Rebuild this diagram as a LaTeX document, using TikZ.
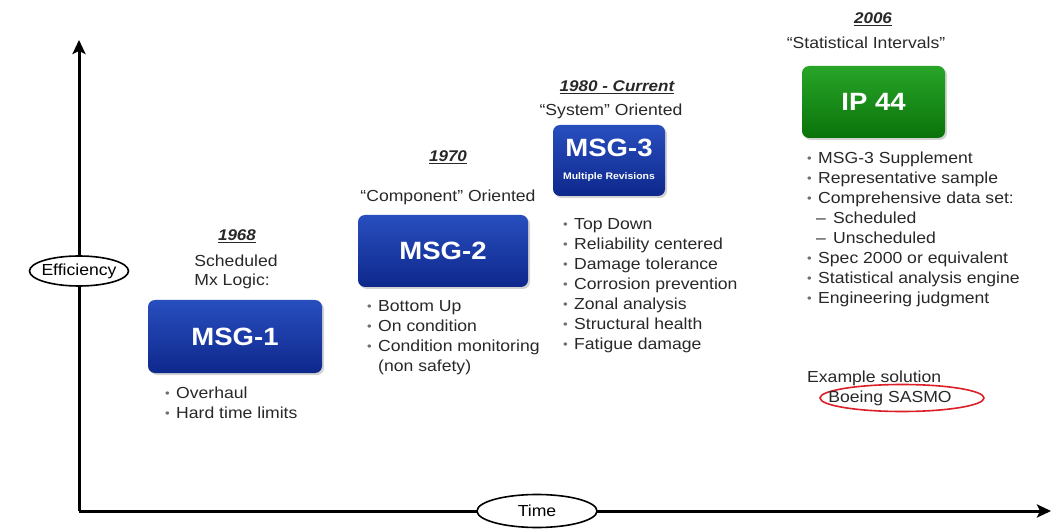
\documentclass[tikz,border=0pt]{standalone}
\usepackage{fontspec}
\setmainfont{Liberation Sans}[FakeStretch=1.1]
\usetikzlibrary{arrows.meta,shapes.geometric,shadows}
\definecolor{bluetop}{RGB}{40,78,190}
\definecolor{bluebot}{RGB}{14,40,140}
\definecolor{greentop}{RGB}{40,165,40}
\definecolor{greenbot}{RGB}{10,115,10}
\definecolor{txt}{RGB}{40,40,40}
\definecolor{bulgray}{RGB}{110,110,110}
\definecolor{sasmored}{RGB}{220,30,40}
\newcommand\bu{\makebox[11pt][l]{\raisebox{1pt}{\textcolor{bulgray}{\fontsize{12}{12}\selectfont\textbullet}}}}
\newcommand\sbu{\makebox[9pt][l]{}\makebox[17pt][l]{\textcolor{txt}{--}}}
\begin{document}
\begin{tikzpicture}[x=1pt,y=-1pt,
  axis/.style={line width=3pt,black},
  axlabel/.style={ellipse,draw,line width=1.6pt,fill=white,inner sep=0pt,font=\fontsize{16}{18}\selectfont},
  boxbase/.style={rounded corners=7pt,text=white,align=center,
     drop shadow={opacity=0.35,shadow xshift=2pt,shadow yshift=-2pt}},
  bluebox/.style={boxbase,top color=bluetop,bottom color=bluebot,font=\bfseries\fontsize{25}{26}\selectfont},
  greenbox/.style={boxbase,top color=greentop,bottom color=greenbot,font=\bfseries\fontsize{25}{26}\selectfont},
  year/.style={font=\bfseries\itshape\fontsize{15.5}{20}\selectfont,text=txt,inner sep=0pt},
  sub/.style={font=\fontsize{16}{19}\selectfont,text=txt,align=center,inner sep=0pt},
  blist/.style={anchor=north west,inner sep=0pt,align=left,text=txt,font=\fontsize{16}{20}\selectfont}
]
\useasboundingbox (0,0) rectangle (1052,529);
% axes
\coordinate (O) at (79,511);
\coordinate (ytop) at (79,40);
\coordinate (xend) at (1051,511);
\draw[axis,-{Stealth[length=14pt,width=13pt,inset=3pt]}] (O) -- (ytop);
\draw[axis,-{Stealth[length=14pt,width=13pt,inset=3pt]}] (O) -- (xend);
\node[axlabel,minimum width=99pt,minimum height=30pt] (eff) at (79,271) {\makebox[40pt]{Efficiency}};
\node[axlabel,minimum width=120pt,minimum height=33pt] (time) at (537,511) {\makebox[40pt]{Time}};

% MSG-1
\node[year] (y1) at (237,236) {\underline{1968}};
\node[sub,align=left] (s1) at (236,272) {Scheduled\\Mx Logic:};
\node[bluebox,minimum width=174pt,minimum height=73pt] (msg1) at (235,336.5) {MSG-1};
\node[blist] (l1) at (165,387) {\bu Overhaul\\\bu Hard time limits};

% MSG-2
\node[year] (y2) at (448,157) {\underline{1970}};
\node[sub] (s2) at (448,197) {``Component'' Oriented};
\node[bluebox,minimum width=170pt,minimum height=72pt] (msg2) at (443,251) {MSG-2};
\node[blist] (l2) at (367,300) {\bu Bottom Up\\\bu On condition\\\bu Condition monitoring\\\makebox[11pt][l]{}(non safety)};

% MSG-3
\node[year] (y3) at (617,87) {\underline{1980 - Current}};
\node[sub] (s3) at (611,111) {``System'' Oriented};
\node[bluebox,minimum width=112pt,minimum height=71pt] (msg3) at (609,160.5) {MSG-3\\[-3pt]{\fontsize{9.5}{11}\selectfont Multiple Revisions}};
\node[blist] (l3) at (563,218) {\bu Top Down\\\bu Reliability centered\\\bu Damage tolerance\\\bu Corrosion prevention\\\bu Zonal analysis\\\bu Structural health\\\bu Fatigue damage};

% IP 44
\node[year] (y4) at (873,19) {\underline{2006}};
\node[sub] (s4) at (866,43) {``Statistical Intervals''};
\node[greenbox,minimum width=143pt,minimum height=72pt] (ip44) at (873.5,102) {IP 44};
\node[blist] (l4) at (807,152) {\bu MSG-3 Supplement\\\bu Representative sample\\\bu Comprehensive data set:\\\sbu Scheduled\\\sbu Unscheduled\\\bu Spec 2000 or equivalent\\\bu Statistical analysis engine\\\bu Engineering judgment};
\node[anchor=west,inner sep=0pt,text=txt,font=\fontsize{16}{19}\selectfont] (ex) at (807,378) {Example solution};
\node[ellipse,draw=sasmored,line width=1.6pt,minimum width=164pt,minimum height=27pt,inner sep=0pt,text=txt,font=\fontsize{16}{19}\selectfont] (sasmo) at (902,398) {\makebox[80pt]{\hspace*{-24pt}Boeing SASMO}};
\end{tikzpicture}
\end{document}
